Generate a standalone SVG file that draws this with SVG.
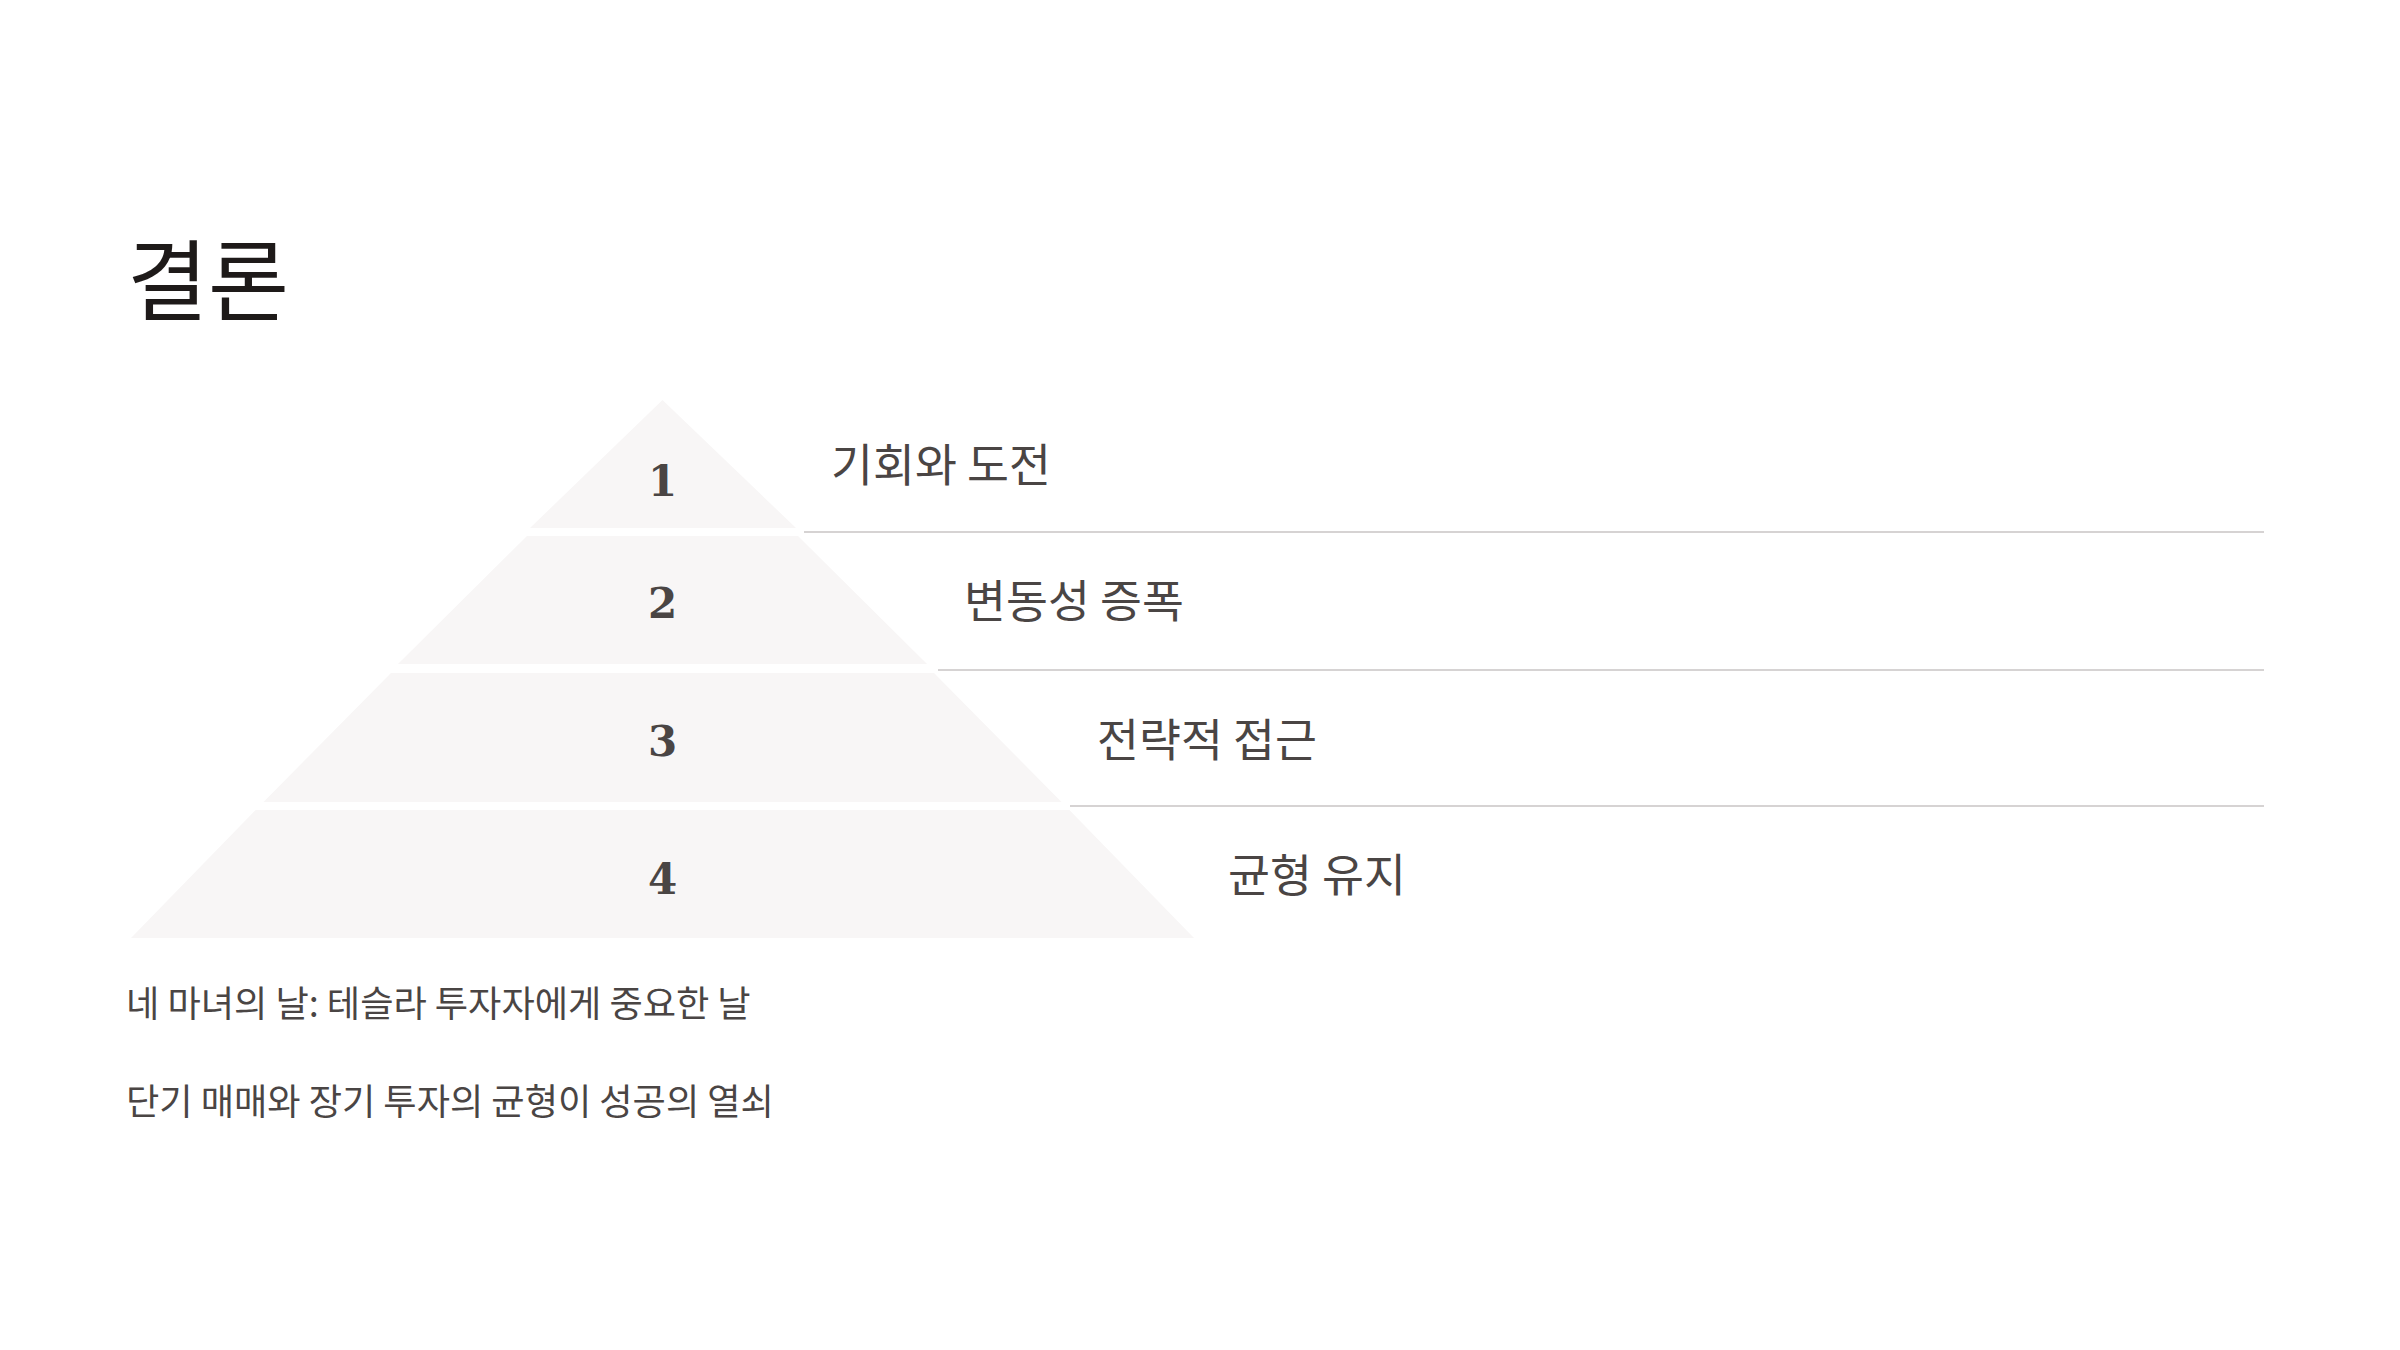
<svg xmlns="http://www.w3.org/2000/svg" width="2400" height="1350" viewBox="0 0 2400 1350">
  <style>
    .band { fill: #f8f6f6; }
    .num { font-family: "DejaVu Serif", "Liberation Serif", serif; font-size: 42px; font-weight: bold; fill: #4a4544; text-anchor: middle; }
    .label { font-family: "Noto Sans CJK KR", "Noto Sans", sans-serif; font-size: 45.6px; fill: #4a4544; }
    .body { font-family: "Noto Sans CJK KR", "Noto Sans", sans-serif; font-size: 36.2px; fill: #4a4544; }
    .title { font-family: "Noto Sans CJK KR", "Noto Sans", sans-serif; font-size: 88px; fill: #1e1a19; }
    .divider { stroke: #d6d3d3; stroke-width: 2; fill: none; }
  </style>
  <rect width="2400" height="1350" fill="#ffffff"/>
  <text class="title" x="127" y="313">결론</text>

  <g id="connectors">
    <line class="divider" x1="804" y1="532" x2="2264" y2="532"/>
    <line class="divider" x1="938" y1="670" x2="2264" y2="670"/>
    <line class="divider" x1="1070" y1="806" x2="2264" y2="806"/>
  </g>

  <g id="tier-1">
    <polygon class="band" points="662.5,400 796,528 530,528"/>
    <text class="num" x="662.5" y="496">1</text>
    <text class="label" x="831" y="482">기회와 도전</text>
  </g>
  <g id="tier-2">
    <polygon class="band" points="527,536 798,536 927,664 398,664"/>
    <text class="num" x="662.5" y="618">2</text>
    <text class="label" x="964" y="618">변동성 증폭</text>
  </g>
  <g id="tier-3">
    <polygon class="band" points="391,673 934,673 1061.5,802 263.5,802"/>
    <text class="num" x="662.5" y="756">3</text>
    <text class="label" x="1097" y="757">전략적 접근</text>
  </g>
  <g id="tier-4">
    <polygon class="band" points="255.6,810 1069.4,810 1194,938 131,938"/>
    <text class="num" x="662.5" y="894">4</text>
    <text class="label" x="1228" y="892">균형 유지</text>
  </g>

  <g id="notes">
    <text class="body" x="126" y="1017">네 마녀의 날: 테슬라 투자자에게 중요한 날</text>
    <text class="body" x="126" y="1115">단기 매매와 장기 투자의 균형이 성공의 열쇠</text>
  </g>
</svg>
